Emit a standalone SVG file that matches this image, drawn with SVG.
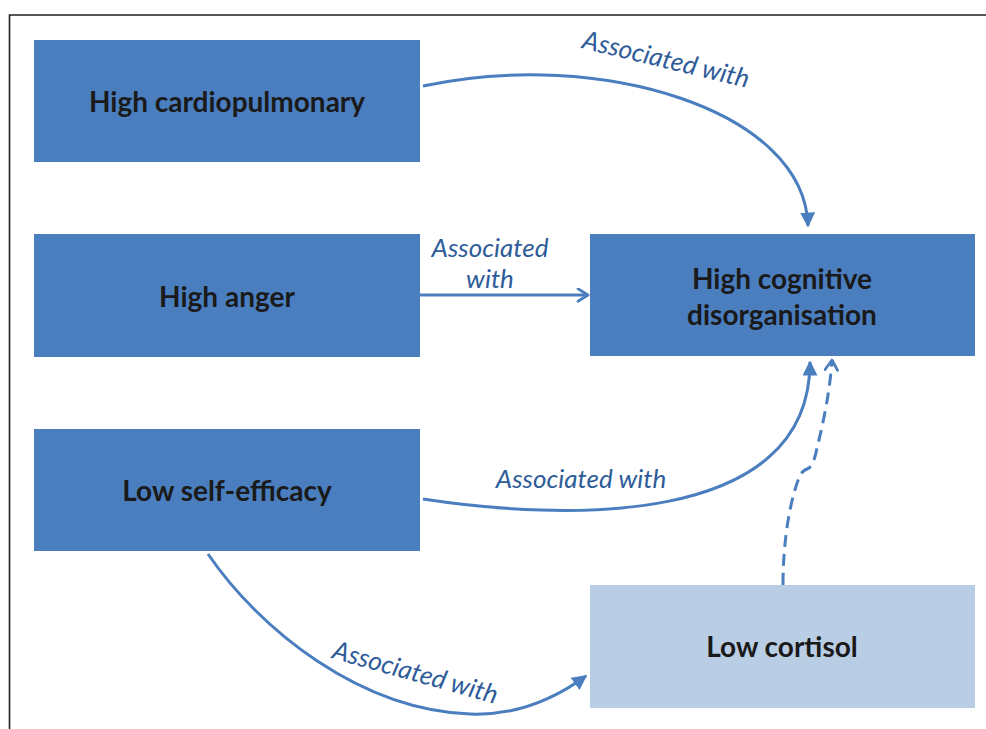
<svg xmlns="http://www.w3.org/2000/svg" width="986" height="729" viewBox="0 0 986 729">
<style>
.box{fill:#4a7ebf}
.boxl{fill:#b9cde5}
.nt{font-family:Lato,"Liberation Sans",sans-serif;font-weight:bold;font-size:28px;fill:#1a1a1a;text-anchor:middle}
.lb{font-family:Lato,"Liberation Sans",sans-serif;font-style:italic;font-size:26px;fill:#2e5c99;text-anchor:middle}
.c{fill:none;stroke:#4a7ebf;stroke-width:3}
</style>
<defs>
<marker id="tri" viewBox="0 0 10 10" refX="9" refY="5" markerWidth="5" markerHeight="5" orient="auto" markerUnits="strokeWidth">
<path d="M0,0 L10,5 L0,10 z" fill="#4a7ebf"/>
</marker>
<marker id="open" viewBox="0 0 12 12" refX="10" refY="6" markerWidth="5" markerHeight="5" orient="auto" markerUnits="strokeWidth">
<path d="M2,1 L10,6 L2,11" fill="none" stroke="#4a7ebf" stroke-width="2.2" stroke-linecap="round" stroke-linejoin="round"/>
</marker>
</defs>
<rect width="986" height="729" fill="#fff"/>
<path d="M9.5,729 V15 H986" fill="none" stroke="#222" stroke-width="1.6"/>
<g id="n1"><rect class="box" x="34" y="40" width="386" height="122"/><text class="nt" x="227" y="112">High cardiopulmonary</text></g>
<g id="n2"><rect class="box" x="34" y="234" width="386" height="123"/><text class="nt" x="227" y="307">High anger</text></g>
<g id="n3"><rect class="box" x="34" y="429" width="386" height="122"/><text class="nt" x="227" y="501">Low self-efficacy</text></g>
<g id="n4"><rect class="box" x="590" y="234" width="385" height="122"/><text class="nt" x="782" y="289">High cognitive</text><text class="nt" x="782" y="325">disorganisation</text></g>
<g id="n5"><rect class="boxl" x="590" y="585" width="385" height="123"/><text class="nt" x="782" y="657">Low cortisol</text></g>
<g id="connectors">
<path class="c" d="M423,86 C600,48 805,110 808,226" marker-end="url(#tri)"/>
<path class="c" d="M420,295 L588,295" marker-end="url(#open)"/>
<path class="c" d="M423,499 C560,520 810,530 810,362" marker-end="url(#tri)"/>
<path class="c" d="M208,554 C260,630 360,710 470,714 C520,716 560,695 586,676" marker-end="url(#tri)"/>
<path class="c" d="M783,585 C783,540 790,500 800,475 Q803,470 809,468 Q814,464 817,448 C824,420 830,390 832,360" stroke-dasharray="12,7" marker-end="url(#open)"/>
<text class="lb" transform="translate(664,68) rotate(13.5)">Associated with</text>
<text class="lb" x="490" y="257">Associated</text>
<text class="lb" x="490" y="288">with</text>
<text class="lb" x="581" y="488">Associated with</text>
<text class="lb" transform="translate(413,681) rotate(15.6)">Associated with</text>
</g>
</svg>
